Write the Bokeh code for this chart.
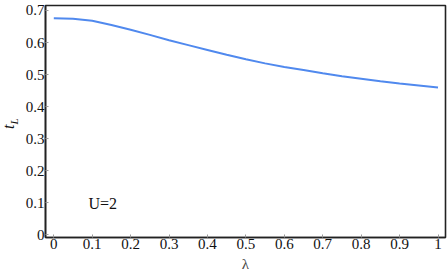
from bokeh.plotting import figure
from bokeh.models import Range1d, FixedTicker, Label, Div
from bokeh.layouts import row
from bokeh.embed import file_html
from bokeh.resources import INLINE

lam = [0.0, 0.05, 0.1, 0.15, 0.2, 0.25, 0.3, 0.35, 0.4, 0.45, 0.5,
       0.55, 0.6, 0.65, 0.7, 0.75, 0.8, 0.85, 0.9, 0.95, 1.0]
tL = [0.676, 0.674, 0.668, 0.655, 0.640, 0.624, 0.607, 0.592, 0.577, 0.562, 0.548,
      0.535, 0.524, 0.514, 0.504, 0.495, 0.487, 0.479, 0.472, 0.466, 0.460]

x_ticks = [0, 0.1, 0.2, 0.3, 0.4, 0.5, 0.6, 0.7, 0.8, 0.9, 1.0]
x_tick_labels = ["0", "0.1", "0.2", "0.3", "0.4", "0.5", "0.6", "0.7", "0.8", "0.9", "1"]
y_ticks = [0, 0.1, 0.2, 0.3, 0.4, 0.5, 0.6, 0.7]
y_tick_labels = ["0", "0.1", "0.2", "0.3", "0.4", "0.5", "0.6", "0.7"]

FONT = "'Liberation Serif', 'Times New Roman', serif"
LABEL_W = 18

p = figure(width=447 - LABEL_W, height=278, output_backend="svg", toolbar_location=None,
           x_range=Range1d(-0.0216, 1.0195), y_range=Range1d(-0.0084, 0.7156),
           min_border_left=45 - LABEL_W, min_border_right=2, min_border_top=5,
           min_border_bottom=41)

p.line(lam, tL, line_color="#5089ee", line_width=2)

p.grid.visible = False
p.outline_line_color = "#222222"
p.outline_line_width = 1.6

for ax, ticks, labels in ((p.xaxis[0], x_ticks, x_tick_labels), (p.yaxis[0], y_ticks, y_tick_labels)):
    ax.ticker = FixedTicker(ticks=ticks)
    ax.major_label_overrides = {t: l for t, l in zip(ticks, labels)}
    ax.axis_line_color = "#222222"
    ax.axis_line_width = 1.6
    ax.major_tick_in = 3
    ax.major_tick_out = 0
    ax.major_tick_line_color = "#999999"
    ax.minor_tick_line_color = None
    ax.major_label_text_font = FONT
    ax.major_label_text_font_size = "15px"
    ax.major_label_text_color = "#111111"
    ax.major_label_standoff = 1

p.xaxis.axis_label = "λ"
p.xaxis.axis_label_text_font = FONT
p.xaxis.axis_label_text_font_style = "normal"
p.xaxis.axis_label_text_font_size = "15px"
p.xaxis.axis_label_standoff = 4

p.add_layout(Label(x=0.09, y=0.097, text="U=2", text_font=FONT, text_font_size="16px",
                   text_baseline="middle", text_color="#111111"))

# rotated y-axis title t_L (with a real subscript) beside the figure
ylabel = Div(
    width=LABEL_W, height=278, margin=0,
    text=('<span style="position:absolute; left:5px; top:114px; display:inline-block; '
          'transform:rotate(-90deg); font-family:\'Liberation Serif\',serif; font-size:16px; '
          'font-style:italic; color:#111; line-height:1; white-space:nowrap;">'
          't<sub style="font-size:11px;">L</sub></span>'),
)

layout = row(ylabel, p, spacing=0)

open("out.html", "w").write(file_html(layout, INLINE))
